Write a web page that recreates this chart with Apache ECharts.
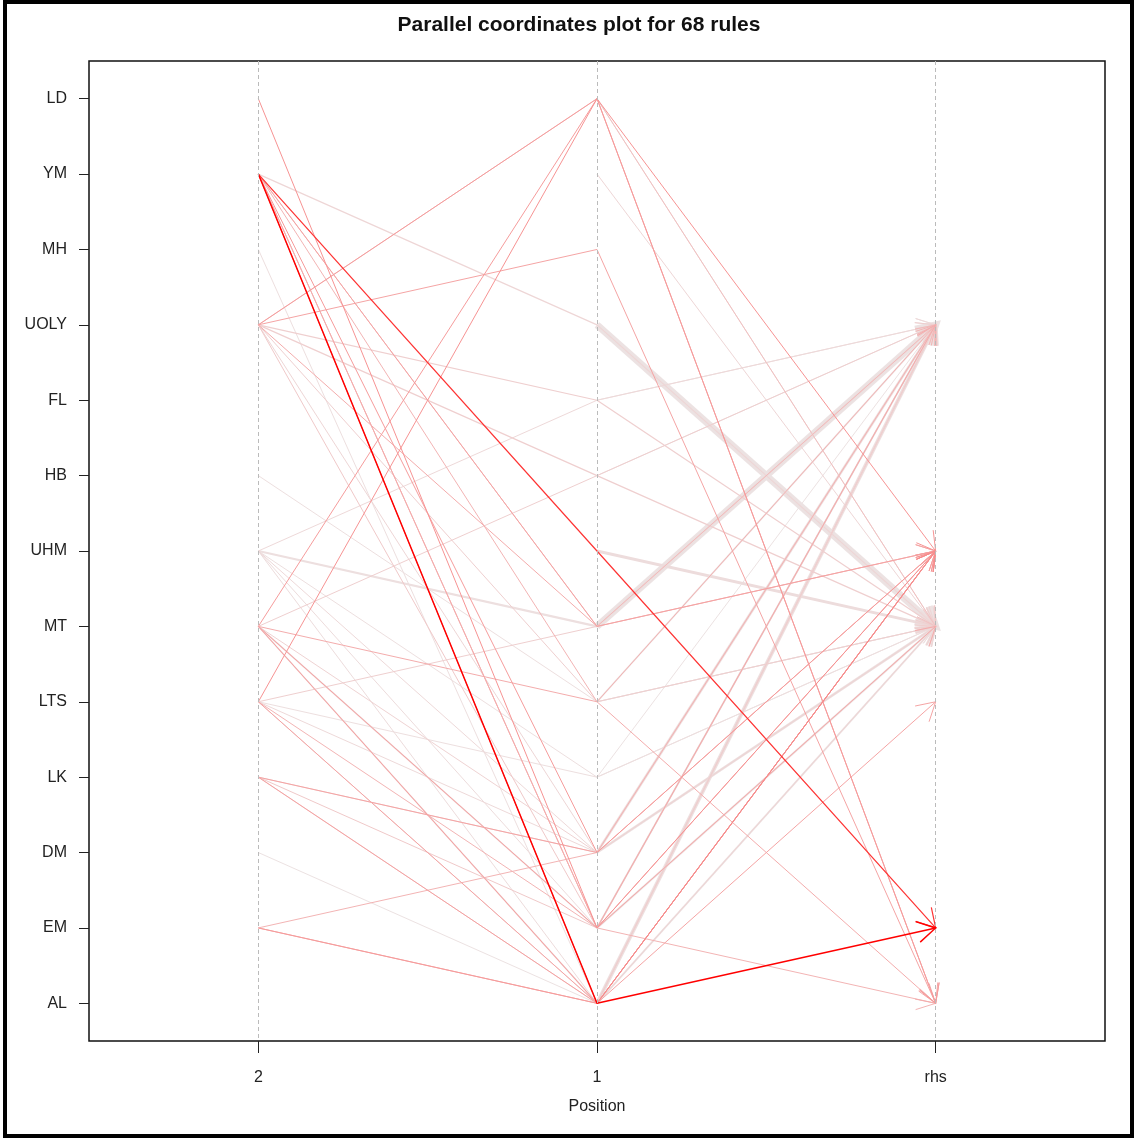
<!DOCTYPE html>
<html><head><meta charset="utf-8">
<script src="https://cdn.jsdelivr.net/npm/echarts@6/dist/echarts.min.js"></script>
<style>html,body{margin:0;padding:0;background:#fff}#c{width:1136px;height:1140px}</style>
</head><body><div id="c"></div>
<script>
// Items on the vertical axis (top to bottom)
const items = ['LD','YM','MH','UOLY','FL','HB','UHM','MT','LTS','LK','DM','EM','AL'];
// Positions on the horizontal axis
const positions = ['2','1','rhs'];
// 68 rules: lhs item at position 2 (null = one-item lhs), lhs item at position 1, rhs item
const lhs2 = ['YM','YM','UOLY','UOLY','MT','LTS','MT','EM','LTS','UOLY','LK','LD','YM','EM','MT',
  null,'YM','UOLY',null,'UOLY','UOLY',null,'UHM',null,'UHM','LTS','UOLY',null,'UHM','LK','UOLY','HB','LTS','UOLY',
  null,null,null,'UHM','MT','YM','LTS','UHM',null,'MT','LK','MT','LK','MT','LTS','DM','UHM',
  'YM','YM','YM','YM','YM','EM','MH',null,null,null,null,null,'LTS','LK','MT',null,null];
const lhs1 = ['AL','UHM','LD','MH','LTS','EM','LD','AL','LD','MT','DM','EM','AL','AL','EM',
  'UOLY','UOLY','LD','YM','FL','HB','UHM','LK','DM','DM','DM','EM','AL','AL','AL','LTS','LTS','LK','DM',
  'MT','AL','DM','FL','HB','MT','MT','MT','LTS','DM','DM','EM','EM','AL','AL','AL','EM',
  'EM','EM','LTS','MT','DM','DM','AL','LK','EM','LD','EM','LTS','AL','AL','AL','FL','HB'];
const rhs = ['EM','EM','AL','AL','AL','AL','AL','LTS','UHM','UHM','UHM','UHM','UHM','UHM','UHM',
  'MT','MT','MT','MT','MT','MT','MT','MT','MT','MT','MT','MT','MT','MT','MT','MT','MT','MT','MT',
  'UOLY','UOLY','UOLY','UOLY','UOLY','UOLY','UOLY','UOLY','UOLY','UOLY','UOLY','UOLY','UOLY','UOLY','UOLY','UOLY','UOLY',
  'MT','UOLY','UOLY','UHM','UHM','UOLY','UOLY','UOLY','MT','MT','UOLY','MT','UHM','UHM','UHM','UOLY','UOLY'];
const support = [0.062,0.055,0.05,0.05,0.05,0.05,0.05,0.05,0.05,0.05,0.05,0.05,0.05,0.05,0.05,
  0.2,0.055,0.05,0.05,0.055,0.055,0.1,0.05,0.09,0.05,0.05,0.05,0.07,0.05,0.05,0.05,0.05,0.05,0.05,
  0.2,0.12,0.09,0.05,0.05,0.05,0.05,0.08,0.065,0.05,0.05,0.06,0.05,0.06,0.05,0.05,0.05,
  0.05,0.05,0.05,0.05,0.05,0.05,0.05,0.05,0.075,0.05,0.07,0.05,0.05,0.05,0.05,0.05,0.05];
const lift = [5.0,4.8,3.2,3.0,2.8,2.6,3.2,3.0,3.4,2.8,3.0,3.4,3.6,3.2,3.0,
  1.2,1.6,2.2,1.6,1.8,1.8,1.4,1.3,1.3,1.5,1.5,2.0,1.3,1.4,1.6,1.8,1.3,1.3,1.6,
  1.2,1.3,1.4,1.5,1.8,2.4,1.8,1.3,1.3,1.7,1.7,1.6,2.0,1.8,1.7,1.2,1.4,
  2.8,2.8,2.6,3.0,3.2,2.6,1.3,1.2,1.3,1.6,1.3,1.2,3.0,3.1,3.0,1.3,1.3];

const sMin = Math.min(...support), sMax = Math.max(...support);
const lMin = Math.min(...lift), lMax = Math.max(...lift);
function colorFor(l){
  const t = (l - lMin) / (lMax - lMin);
  const r = Math.round(236 + 19 * t);
  const g = Math.round(226 * Math.pow(1 - t, 0.5));
  return 'rgb(' + r + ',' + g + ',' + g + ')';
}
function widthFor(s){ return 1 + (s - sMin) / (sMax - sMin) * 6; }

const order = lift.map((_, i) => i).sort((a, b) => lift[a] - lift[b]);
const ruleData = order.map(i => [
  1, items.indexOf(lhs1[i]),
  lhs2[i] === null ? -1 : items.indexOf(lhs2[i]),
  items.indexOf(lhs1[i]), items.indexOf(rhs[i]), support[i], lift[i]
]);

const FONT = '"Liberation Sans", Arial, sans-serif';
const chart = echarts.init(document.getElementById('c'));
chart.setOption({
  animation: false,
  backgroundColor: '#fff',
  title: {
    text: 'Parallel coordinates plot for 68 rules',
    left: 574, top: 10, textAlign: 'center',
    textStyle: { fontFamily: FONT, fontSize: 21, fontWeight: 'bold', color: '#111' }
  },
  graphic: [{
    type: 'rect', silent: true, z: 100,
    shape: { x: 5, y: 2, width: 1127, height: 1134 },
    style: { fill: null, stroke: '#000', lineWidth: 4 }
  }],
  grid: { left: 89, top: 61, width: 1016, height: 980, show: true, borderColor: '#111', borderWidth: 1.5, backgroundColor: 'transparent' },
  xAxis: {
    type: 'category', data: positions, boundaryGap: true,
    axisLine: { show: false },
    axisTick: { show: true, alignWithLabel: true, length: 12, lineStyle: { color: '#222' } },
    axisLabel: { fontFamily: FONT, fontSize: 16, color: '#222', margin: 29 },
    splitLine: { show: false },
    name: 'Position', nameLocation: 'middle', nameGap: 58,
    nameTextStyle: { fontFamily: FONT, fontSize: 16, color: '#222' }
  },
  yAxis: {
    type: 'category', data: items, inverse: true, boundaryGap: true,
    axisLine: { show: false },
    axisTick: { show: true, alignWithLabel: true, length: 10, lineStyle: { color: '#222' } },
    axisLabel: { fontFamily: FONT, fontSize: 16, color: '#222', margin: 22 },
    splitLine: { show: false }
  },
  series: [
    {
      type: 'line', data: [], z: 1, silent: true,
      markLine: {
        silent: true, symbol: 'none', animation: false,
        label: { show: false },
        lineStyle: { color: '#bbb', width: 1, type: [4, 3] },
        data: positions.map(p => ({ xAxis: p }))
      }
    },
    {
      type: 'custom', z: 2, silent: true,
      encode: { x: 0, y: 1 },
      data: ruleData,
      renderItem: function (params, api) {
        const y2 = api.value(2), y1 = api.value(3), yr = api.value(4);
        const s = api.value(5), l = api.value(6);
        const a = api.coord([1, y1]);
        const b = api.coord([2, yr]);
        const pts = [];
        if (y2 >= 0) pts.push(api.coord([0, y2]));
        pts.push(a, b);
        const color = colorFor(l), w = widthFor(s);
        const ang = Math.atan2(b[1] - a[1], b[0] - a[0]);
        const L = 21, phi = Math.PI / 6;
        const arm1 = [b[0] - L * Math.cos(ang - phi), b[1] - L * Math.sin(ang - phi)];
        const arm2 = [b[0] - L * Math.cos(ang + phi), b[1] - L * Math.sin(ang + phi)];
        return {
          type: 'group',
          children: [
            { type: 'polyline', shape: { points: pts }, style: { stroke: color, lineWidth: w, fill: null, lineJoin: 'round' } },
            { type: 'polyline', shape: { points: [arm1, b, arm2] }, style: { stroke: color, lineWidth: w, fill: null } }
          ]
        };
      }
    }
  ]
});
</script></body></html>
